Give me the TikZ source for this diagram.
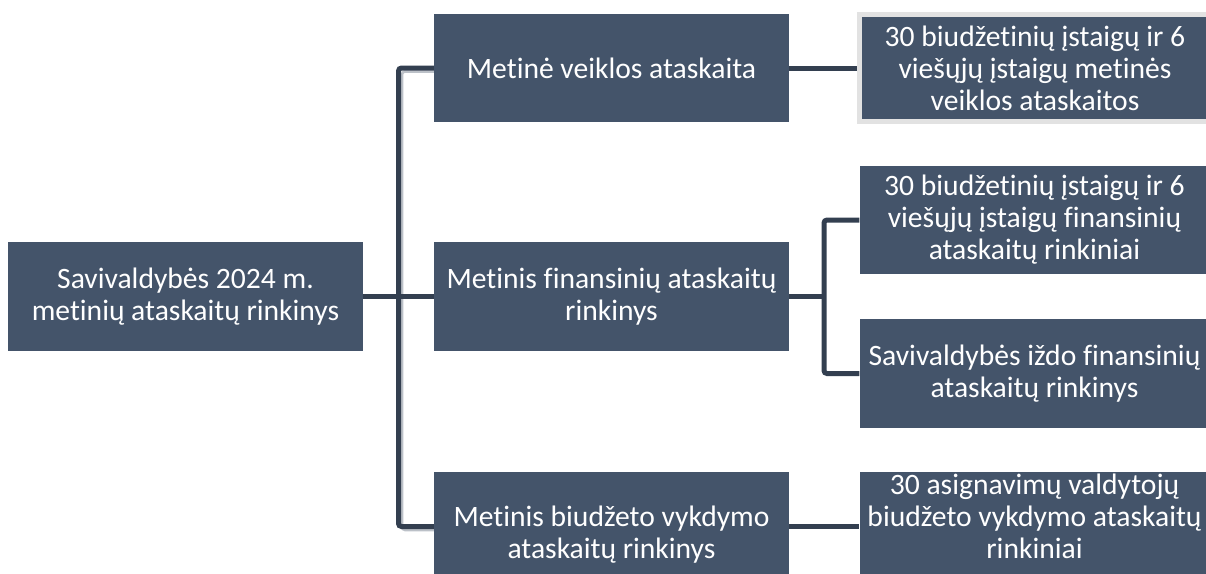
\documentclass[tikz,border=0pt]{standalone}
\usepackage{fontspec}
\setmainfont{Carlito}[Ligatures=NoCommon]
\usetikzlibrary{calc}
\definecolor{boxfill}{HTML}{44546A}
\definecolor{linecol}{HTML}{333F50}
\definecolor{rimcol}{HTML}{E2E2E2}
\definecolor{shadecol}{HTML}{BCC1C8}
\begin{document}
\begin{tikzpicture}[x=1pt,y=-1pt,
  boxtxt/.style={text=white, align=center, font=\fontsize{29.6}{32}\selectfont},
  box/.style={boxtxt, fill=boxfill, minimum width=355pt, minimum height=109pt, inner sep=0pt},
  rbox/.style={box, minimum width=350pt},
  txt/.style={boxtxt, inner sep=0pt},
  conn/.style={draw=linecol, line width=5pt, rounded corners=3pt},
  connshade/.style={draw=shadecol, line width=2.5pt, rounded corners=3pt}
]
\useasboundingbox (0,0) rectangle (1206,573);
\begin{scope}
\clip (0,0) rectangle (1206,573);
% level 0
\node[box] (root) at (185.5,296.5) {Savivaldybės 2024 m.\\metinių ataskaitų rinkinys};
% level 1
\node[box, minimum height=108pt] (m1) at (611.5,68) {Metinė veiklos ataskaita};
\node[box] (m2) at (611.5,296.5) {Metinis finansinių ataskaitų\\rinkinys};
\node[box] (m3) at (611.5,526.5) {};
\node[txt] (m3t) at (611.5,535) {Metinis biudžeto vykdymo\\ataskaitų rinkinys};
% level 2
\node[rbox, draw=rimcol, line width=5pt, minimum width=351pt, minimum height=107pt] (a) at (1035,68) {30 biudžetinių įstaigų ir 6\\viešųjų įstaigų metinės\\veiklos ataskaitos};
\node[rbox, minimum height=108pt] (b) at (1034.5,220) {30 biudžetinių įstaigų ir 6\\viešųjų įstaigų finansinių\\ataskaitų rinkiniai};
\node[rbox] (c) at (1034.5,373.5) {Savivaldybės iždo finansinių\\ataskaitų rinkinys};
\node[rbox] (d) at (1034.5,526.5) {};
\node[txt] (dt) at (1034.5,516.5) {30 asignavimų valdytojų\\biudžeto vykdymo ataskaitų\\rinkiniai};
\end{scope}
% connectors
\coordinate (j1) at (398.5,296.5);
\coordinate (j1s) at (402,300);
\coordinate (j2) at (824,296.5);
\draw[connshade] ($(m1.west)+(0,3.5)$) -| (j1s) |- ($(m3.west)+(0,3.5)$);
\draw[conn] (root.east) -- (m2.west);
\draw[conn] (m1.west) -| (j1) |- (m3.west);
\draw[conn] (m1.east) -- (a.west);
\draw[conn] (m2.east) -- (j2);
\draw[conn] (b.west) -| (j2) |- (c.west);
\draw[conn] (m3.east) -- (d.west);
\end{tikzpicture}
\end{document}
